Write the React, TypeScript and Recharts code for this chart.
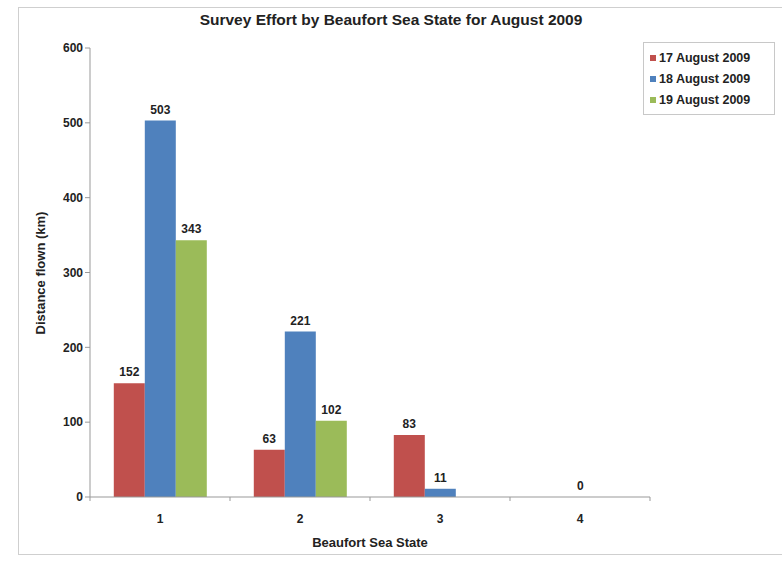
import React from "react";
import { BarChart, Bar, XAxis, YAxis, LabelList, Rectangle } from "recharts";

const categories = ["1", "2", "3", "4"];
const aug17 = [152, 63, 83, null];
const aug18 = [503, 221, 11, 0];
const aug19 = [343, 102, null, null];
const yTicks = [0, 100, 200, 300, 400, 500, 600];

const seriesNames = ["17 August 2009", "18 August 2009", "19 August 2009"];
const colors = ["#C0504D", "#4F81BD", "#9BBB59"];

const data = categories.map((c, i) => ({
  cat: c,
  a: aug17[i],
  b: aug18[i],
  c: aug19[i],
}));

const FONT = "'Liberation Sans', Arial, sans-serif";

const XTick = (props: any) => {
  const { x, y, payload, index } = props;
  const off = payload.offset || 0;
  return (
    <g>
      <line x1={x - off} y1={y - 8} x2={x - off} y2={y - 4} stroke="#999" />
      {index === categories.length - 1 && (
        <line x1={x + off} y1={y - 8} x2={x + off} y2={y - 4} stroke="#999" />
      )}
      <text x={x} y={y + 18} textAnchor="middle" fontSize={12} fontWeight="bold" fill="#222" fontFamily={FONT}>
        {payload.value}
      </text>
    </g>
  );
};

const ValueLabel = (props: any) => {
  const { x, y, width, height, value } = props;
  if (value === null || value === undefined) return null;
  const top = Number(value) === 0 ? Number(y) + Number(height) : Number(y);
  return (
    <text
      x={Number(x) + Number(width) / 2}
      y={top - 7}
      textAnchor="middle"
      fontSize={12}
      fontWeight="bold"
      fill="#222"
      fontFamily={FONT}
    >
      {value}
    </text>
  );
};

const ZeroAwareBar = (props: any) => {
  const v = props.value;
  const val = Array.isArray(v) ? v[1] - v[0] : v;
  if (!val) return null;
  return <Rectangle {...props} />;
};

const LegendBox = () => (
  <div
    style={{
      border: "1px solid #c8c8c8",
      padding: "4px 6px 4px 6px",
      background: "#fff",
      fontFamily: FONT,
      fontSize: 12.5,
      fontWeight: "bold",
      color: "#222",
      width: 118,
      whiteSpace: "nowrap",
    }}
  >
    {seriesNames.map((n, i) => (
      <div key={n} style={{ display: "flex", alignItems: "center", height: 21 }}>
        <span style={{ width: 6, height: 6, background: colors[i], marginRight: 3, display: "inline-block" }} />
        {n}
      </div>
    ))}
  </div>
);

export default function App() {
  return (
    <div style={{ position: "absolute", left: 0, top: 0, width: 782, height: 561, background: "#fff" }}>
      <div
        style={{
          position: "absolute",
          left: 18,
          top: 7,
          width: 770,
          height: 548,
          border: "1px solid #cfcfcf",
          boxSizing: "border-box",
        }}
      />
      <div
        style={{
          position: "absolute",
          left: 0,
          top: 11,
          width: 782,
          textAlign: "center",
          fontFamily: FONT,
          fontWeight: "bold",
          fontSize: 15.5,
          color: "#222",
        }}
      >
        Survey Effort by Beaufort Sea State for August 2009
      </div>
      <div
        style={{
          position: "absolute",
          left: 370,
          top: 535,
          transform: "translateX(-50%)",
          fontFamily: FONT,
          fontWeight: "bold",
          fontSize: 13,
          color: "#222",
          whiteSpace: "nowrap",
        }}
      >
        Beaufort Sea State
      </div>
      <div
        style={{
          position: "absolute",
          left: 40,
          top: 273,
          transform: "translate(-50%, -50%) rotate(-90deg)",
          fontFamily: FONT,
          fontWeight: "bold",
          fontSize: 13,
          color: "#222",
          whiteSpace: "nowrap",
        }}
      >
        Distance flown (km)
      </div>
      <div style={{ position: "absolute", left: 0, top: 0 }}>
        <BarChart
          width={782}
          height={561}
          data={data}
          margin={{ top: 48, right: 132, left: 30, bottom: 34 }}
          barCategoryGap="17%"
          barGap={0}
        >
          <XAxis
            dataKey="cat"
            stroke="#999"
            tickLine={false}
            tick={<XTick />}
            height={30}
          />
          <YAxis
            domain={[0, 600]}
            ticks={yTicks}
            width={60}
            stroke="#999"
            tickSize={5}
            tick={{ fontSize: 12, fontWeight: "bold", fill: "#222", fontFamily: FONT }}
          />
          <Bar dataKey="a" name={seriesNames[0]} fill={colors[0]} isAnimationActive={false}>
            <LabelList dataKey="a" content={<ValueLabel />} />
          </Bar>
          <Bar
            dataKey="b"
            name={seriesNames[1]}
            fill={colors[1]}
            isAnimationActive={false}
            minPointSize={1}
            shape={<ZeroAwareBar />}
          >
            <LabelList dataKey="b" content={<ValueLabel />} />
          </Bar>
          <Bar dataKey="c" name={seriesNames[2]} fill={colors[2]} isAnimationActive={false}>
            <LabelList dataKey="c" content={<ValueLabel />} />
          </Bar>
        </BarChart>
      </div>
      <div style={{ position: "absolute", left: 643, top: 42 }}>
        <LegendBox />
      </div>
    </div>
  );
}
